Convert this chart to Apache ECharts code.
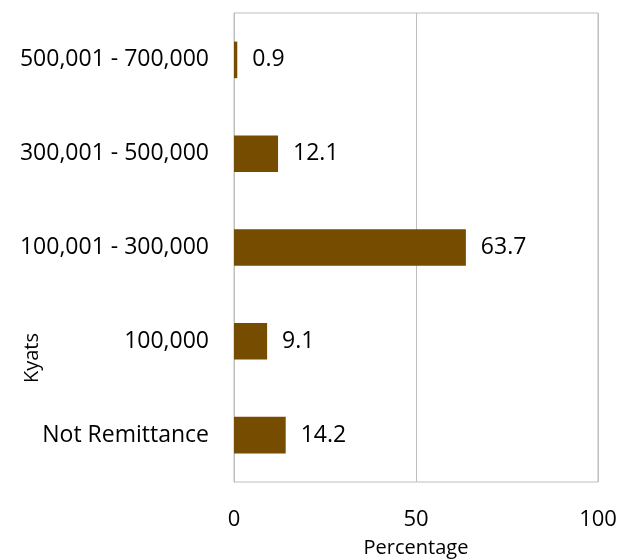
<!DOCTYPE html>
<html>
<head>
<meta charset="utf-8">
<script src="https://cdn.jsdelivr.net/npm/echarts@6/dist/echarts.min.js"></script>
<style>
html,body{margin:0;padding:0;background:#fff;}
#chart{width:633px;height:559px;}
</style>
</head>
<body>
<div id="chart"></div>
<script>
// Remittance amount bands (bottom to top) and share of households
const categories = ['Not Remittance', '100,000', '100,001 - 300,000', '300,001 - 500,000', '500,001 - 700,000'];
const percentages = [14.2, 9.1, 63.7, 12.1, 0.9];
const xTicks = [0, 50, 100];

const FONT = '"Open Sans", "Noto Sans", sans-serif';
const chart = echarts.init(document.getElementById('chart'), null, { renderer: 'canvas' });

chart.setOption({
  animation: false,
  backgroundColor: '#ffffff',
  grid: {
    left: 234, right: 35, top: 13, bottom: 77,
    outerBoundsMode: 'none',
    show: true, borderColor: '#bfbfbf', borderWidth: 1
  },
  xAxis: {
    type: 'value',
    min: xTicks[0], max: xTicks[xTicks.length - 1], interval: 50,
    name: 'Percentage', nameLocation: 'middle', nameGap: 56,
    nameTextStyle: { fontFamily: FONT, fontSize: 20, color: '#000' },
    axisLine: { show: false },
    axisTick: { show: false },
    axisLabel: { fontFamily: FONT, fontSize: 22, color: '#000', margin: 27 },
    splitLine: { show: true, lineStyle: { color: '#bfbfbf', width: 1 } }
  },
  yAxis: {
    type: 'category',
    data: categories,
    axisLine: { show: true, lineStyle: { color: '#bfbfbf' } },
    axisTick: { show: false },
    axisLabel: { fontFamily: FONT, fontSize: 23, color: '#000', margin: 25 }
  },
  graphic: [{
    type: 'text',
    left: 22, top: 333,
    rotation: Math.PI / 2,
    style: { text: 'Kyats', font: '20px ' + FONT, fill: '#000' }
  }],
  series: [{
    type: 'bar',
    data: percentages,
    barWidth: '39%',
    itemStyle: { color: '#754c00' },
    label: {
      show: true, position: 'right', distance: 15,
      fontFamily: FONT, fontSize: 23, color: '#000',
      formatter: p => p.value.toFixed(1)
    }
  }]
});
</script>
</body>
</html>
